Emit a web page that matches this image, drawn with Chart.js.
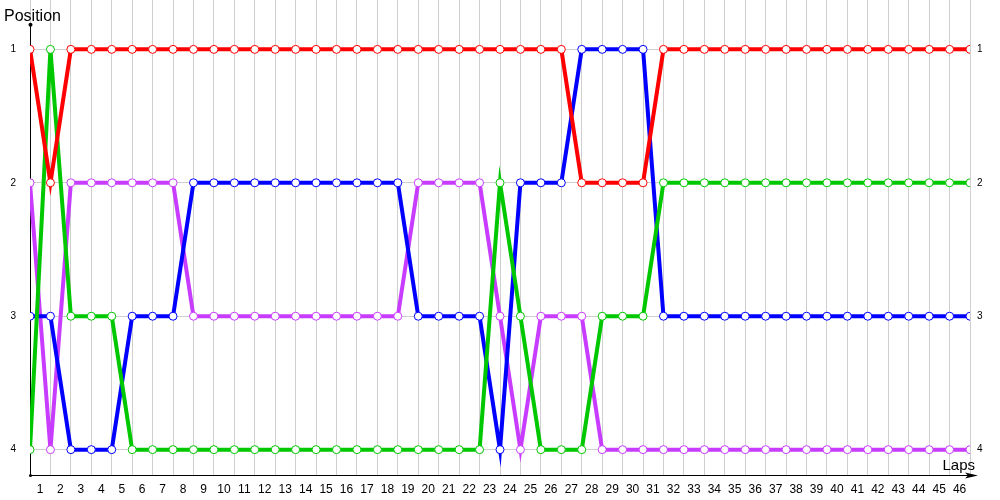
<!DOCTYPE html>
<html>
<head>
<meta charset="utf-8">
<script src="https://cdn.jsdelivr.net/npm/chart.js@4"></script>
<style>
  html, body { margin: 0; padding: 0; background: #fff; }
  #wrap { width: 1000px; height: 500px; }
</style>
</head>
<body>
<div id="wrap"><canvas id="raceChart"></canvas></div>
<script>
"use strict";

const laps = [0, 1, 2, 3, 4, 5, 6, 7, 8, 9, 10, 11, 12, 13, 14, 15, 16, 17, 18, 19, 20, 21, 22, 23,
  24, 25, 26, 27, 28, 29, 30, 31, 32, 33, 34, 35, 36, 37, 38, 39, 40, 41, 42, 43, 44, 45, 46];
const positionTicks = [1, 2, 3, 4];

const redPos = [1, 2, 1, 1, 1, 1, 1, 1, 1, 1, 1, 1, 1, 1, 1, 1, 1, 1, 1, 1, 1, 1, 1, 1,
  1, 1, 1, 2, 2, 2, 2, 1, 1, 1, 1, 1, 1, 1, 1, 1, 1, 1, 1, 1, 1, 1, 1];
const greenPos = [4, 1, 3, 3, 3, 4, 4, 4, 4, 4, 4, 4, 4, 4, 4, 4, 4, 4, 4, 4, 4, 4, 4, 2,
  3, 4, 4, 4, 3, 3, 3, 2, 2, 2, 2, 2, 2, 2, 2, 2, 2, 2, 2, 2, 2, 2, 2];
const bluePos = [3, 3, 4, 4, 4, 3, 3, 3, 2, 2, 2, 2, 2, 2, 2, 2, 2, 2, 2, 3, 3, 3, 3, 4,
  2, 2, 2, 1, 1, 1, 1, 3, 3, 3, 3, 3, 3, 3, 3, 3, 3, 3, 3, 3, 3, 3, 3];
const purplePos = [2, 4, 2, 2, 2, 2, 2, 2, 3, 3, 3, 3, 3, 3, 3, 3, 3, 3, 3, 2, 2, 2, 2, 3,
  4, 3, 3, 3, 4, 4, 4, 4, 4, 4, 4, 4, 4, 4, 4, 4, 4, 4, 4, 4, 4, 4, 4];

const GRID = "#cfcfcf";
const FONT = "'Liberation Sans', Arial, sans-serif";

const makeSeries = (label, data, color) => ({
  label: label,
  data: data,
  borderColor: color,
  borderWidth: 4,
  borderJoinStyle: "miter",
  pointRadius: 4,
  pointBorderWidth: 1,
  pointBackgroundColor: "#ffffff",
  pointBorderColor: color,
  tension: 0,
});

// fixed axis sizes so the plot sits where the original one does
const fixWidth = (w) => (scale) => {
  scale.width = w;
  scale.paddingTop = 0;
  scale.paddingBottom = 0;
};

// axes with arrow + dots, drawn under the lines
const axisArrows = {
  id: "axisArrows",
  beforeDatasetsDraw(chart) {
    const ctx = chart.ctx;
    const area = chart.chartArea;
    const yTop = chart.scales.y.getPixelForValue(0.815);
    ctx.save();
    ctx.strokeStyle = "#000";
    ctx.fillStyle = "#000";
    ctx.lineWidth = 1;
    ctx.beginPath();
    ctx.moveTo(area.left + 0.5, yTop);
    ctx.lineTo(area.left + 0.5, area.bottom + 0.5);
    ctx.lineTo(area.right + 5, area.bottom + 0.5);
    ctx.stroke();
    // arrow head
    ctx.beginPath();
    ctx.moveTo(area.right + 8, area.bottom + 0.5);
    ctx.lineTo(area.right - 5, area.bottom - 2.5);
    ctx.lineTo(area.right - 2, area.bottom + 0.5);
    ctx.lineTo(area.right - 5, area.bottom + 3.5);
    ctx.closePath();
    ctx.fill();
    // dots
    ctx.beginPath();
    ctx.arc(area.left + 0.5, yTop, 2, 0, Math.PI * 2);
    ctx.fill();
    ctx.beginPath();
    ctx.arc(area.left + 0.5, area.bottom + 0.5, 1.5, 0, Math.PI * 2);
    ctx.fill();
    // titles
    ctx.font = "16px " + FONT;
    ctx.textBaseline = "alphabetic";
    ctx.textAlign = "left";
    ctx.fillText("Position", 4, 21);
    ctx.font = "15px " + FONT;
    ctx.textAlign = "right";
    ctx.fillText("Laps", area.right + 5, area.bottom - 5);
    ctx.restore();
  },
};

new Chart(document.getElementById("raceChart"), {
  type: "line",
  data: {
    labels: laps,
    datasets: [
      makeSeries("Red", redPos, "#ff0000"),
      makeSeries("Green", greenPos, "#00c800"),
      makeSeries("Blue", bluePos, "#0000ff"),
      makeSeries("Purple", purplePos, "#c83cff"),
    ],
  },
  options: {
    responsive: true,
    maintainAspectRatio: false,
    animation: false,
    layout: { padding: 0, autoPadding: false },
    plugins: {
      legend: { display: false },
      tooltip: { enabled: false },
    },
    scales: {
      x: {
        type: "linear",
        min: 0,
        max: 46,
        border: { display: false },
        grid: { color: GRID, lineWidth: 1, drawTicks: false },
        ticks: {
          stepSize: 1,
          autoSkip: false,
          maxRotation: 0,
          padding: 7,
          labelOffset: 10,
          color: "#000",
          font: { family: FONT, size: 12 },
          callback: (value) => (value < 46 ? String(value + 1) : ""),
        },
        afterFit: (scale) => {
          scale.height = 25;
          scale.paddingLeft = 0;
          scale.paddingRight = 0;
        },
      },
      y: {
        type: "linear",
        position: "left",
        reverse: true,
        min: 0.63,
        max: 4.19,
        border: { display: false },
        grid: { color: GRID, lineWidth: 1, drawTicks: false },
        afterBuildTicks: (scale) => {
          scale.ticks = positionTicks.map((v) => ({ value: v }));
        },
        ticks: {
          padding: 14,
          color: "#000",
          font: { family: FONT, size: 10 },
        },
        afterFit: fixWidth(30),
      },
      yRight: {
        type: "linear",
        position: "right",
        reverse: true,
        min: 0.63,
        max: 4.19,
        border: { display: false },
        grid: { display: false, drawTicks: false },
        afterBuildTicks: (scale) => {
          scale.ticks = positionTicks.map((v) => ({ value: v }));
        },
        ticks: {
          padding: 7,
          color: "#000",
          font: { family: FONT, size: 10 },
        },
        afterFit: fixWidth(30),
      },
    },
  },
  plugins: [axisArrows],
});
</script>
</body>
</html>
